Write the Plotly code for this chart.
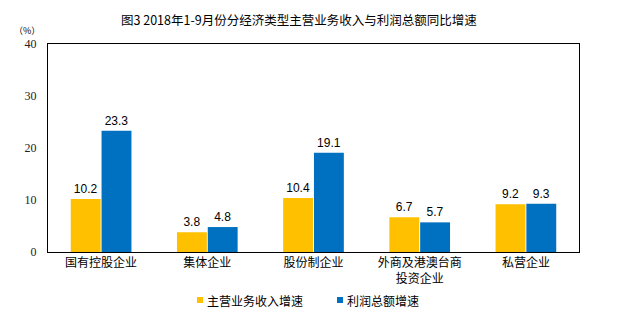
import plotly.graph_objects as go

categories = ["国有控股企业", "集体企业", "股份制企业", "外商及港澳台商<br>投资企业", "私营企业"]
revenue_growth = [10.2, 3.8, 10.4, 6.7, 9.2]
profit_growth = [23.3, 4.8, 19.1, 5.7, 9.3]
series_names = ["主营业务收入增速", "利润总额增速"]
y_ticks = [0, 10, 20, 30, 40]
title_text = "图3 2018年1-9月份分经济类型主营业务收入与利润总额同比增速"

colors = ["#FFC000", "#0070C0"]
cjk = "Noto Sans CJK SC"

# plot area in pixels (for placing legend pieces)
L, R, T, B = 48, 579, 44, 252
def px(x):
    return (x - L) / (R - L)
def py(y):
    return (B - y) / (B - T)

fig = go.Figure()
for name, vals, col in zip(series_names, [revenue_growth, profit_growth], colors):
    fig.add_trace(go.Bar(
        x=categories, y=vals, name=name, marker=dict(color=col, line=dict(width=0)),
        text=[f"{v:.1f}" for v in vals], textposition="outside",
        textfont=dict(family="Liberation Sans, Arial", size=12, color="#000"),
        showlegend=False, cliponaxis=False,
    ))

shapes = []
annotations = [
    dict(text=title_text, xref="paper", yref="paper", x=px(298.5), y=py(20),
         xanchor="center", yanchor="middle", showarrow=False,
         font=dict(family=cjk, size=12.5, color="#000")),
    dict(text="（%）", xref="paper", yref="paper", x=px(27), y=py(30),
         xanchor="center", yanchor="middle", showarrow=False,
         font=dict(family=cjk, size=9, color="#000")),
]
# legend: small squares followed by text
legend_x = [197, 337]
for name, col, lx in zip(series_names, colors, legend_x):
    shapes.append(dict(type="rect", xref="paper", yref="paper",
                       x0=px(lx), x1=px(lx + 6), y0=py(297), y1=py(303),
                       fillcolor=col, line=dict(width=0)))
    annotations.append(dict(text=name, xref="paper", yref="paper", x=px(lx + 8), y=py(300),
                            xanchor="left", yanchor="middle", showarrow=False,
                            font=dict(family=cjk, size=12, color="#000")))

fig.update_layout(
    width=622, height=324,
    margin=dict(l=L, r=622 - R, t=T, b=324 - B),
    paper_bgcolor="white", plot_bgcolor="white",
    barmode="group", bargap=0.42, bargroupgap=0.03,
    font=dict(family=cjk, size=12, color="#000"),
    showlegend=False,
    xaxis=dict(showline=True, mirror=True, linecolor="#000", linewidth=1,
               ticks="", tickfont=dict(family=cjk, size=12, color="#000")),
    yaxis=dict(range=[0, 40], tickvals=y_ticks, showgrid=False, zeroline=False,
               showline=True, mirror=True, linecolor="#000", linewidth=1,
               ticks="", ticklabelstandoff=8,
               tickfont=dict(family="Liberation Serif", size=12, color="#222")),
    shapes=shapes,
    annotations=annotations,
)

fig.write_html("out.html")
